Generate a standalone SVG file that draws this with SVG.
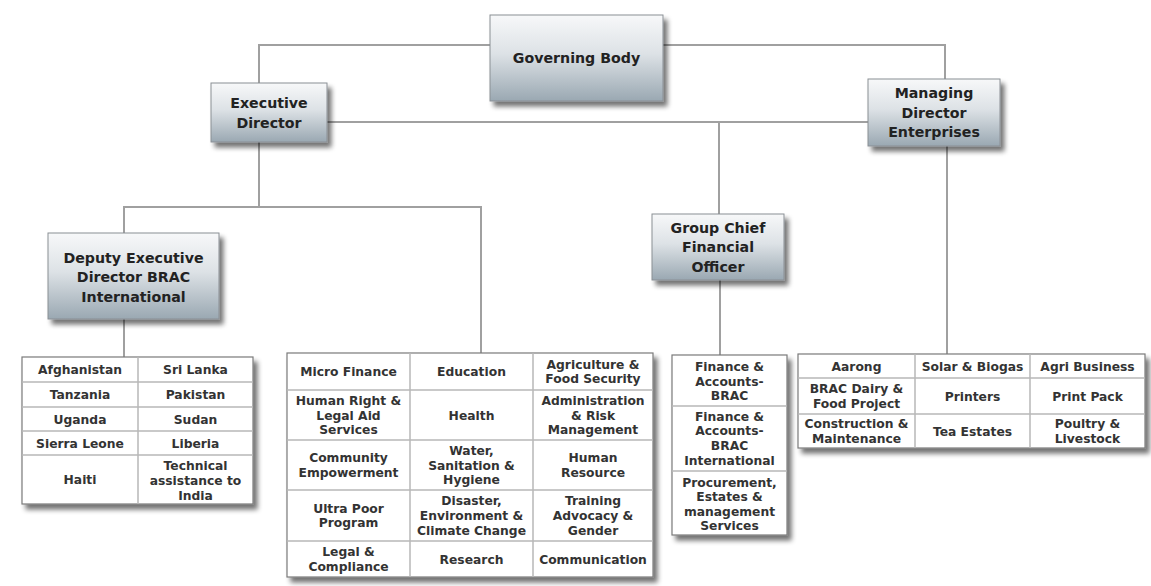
<svg xmlns="http://www.w3.org/2000/svg" width="1151" height="586" viewBox="0 0 1151 586">
<defs>
<linearGradient id="boxg" x1="0" y1="0" x2="0" y2="1">
<stop offset="0" stop-color="#f7f8f9"/>
<stop offset="0.45" stop-color="#dde2e6"/>
<stop offset="1" stop-color="#9aa8b2"/>
</linearGradient>
<filter id="sh" x="-10%" y="-10%" width="125%" height="130%">
<feGaussianBlur in="SourceAlpha" stdDeviation="2.5"/>
<feOffset dx="4" dy="5" result="b"/>
<feComponentTransfer><feFuncA type="linear" slope="0.55"/></feComponentTransfer>
<feMerge><feMergeNode/><feMergeNode in="SourceGraphic"/></feMerge>
</filter>
</defs>
<style>
.box{fill:url(#boxg);stroke:#8a8f94;stroke-width:1;filter:url(#sh)}
.tbl{fill:#fff;stroke:#7a7a7a;stroke-width:1.2;filter:url(#sh)}
.div{stroke:#b8b8b8;stroke-width:1.5;fill:none}
.con{stroke:#a0a0a0;stroke-width:2;fill:none}
.t{font-family:"DejaVu Sans",Verdana,sans-serif;font-weight:bold;font-size:14.2px;fill:#222;text-anchor:middle}
.c{font-family:"DejaVu Sans",Verdana,sans-serif;font-weight:bold;font-size:12.3px;fill:#333;text-anchor:middle}
</style>
<rect width="1151" height="586" fill="#fff"/>
<g id="connectors">
<polyline class="con" points="490,45 259,45 259,83"/>
<polyline class="con" points="663,45 945,45 945,79"/>
<line class="con" x1="327" y1="122" x2="868" y2="122"/>
<line class="con" x1="719" y1="122" x2="719" y2="214"/>
<line class="con" x1="947" y1="146" x2="947" y2="354"/>
<line class="con" x1="720" y1="280" x2="720" y2="355"/>
<line class="con" x1="259" y1="142" x2="259" y2="207"/>
<polyline class="con" points="124,233 124,207 481,207 481,353"/>
<line class="con" x1="124" y1="319" x2="124" y2="357"/>
</g>
<g id="governing-body">
<rect class="box" x="490" y="15" width="173" height="86"/>
<text class="t" x="576.5" y="63">Governing Body</text>
</g>
<g id="executive-director">
<rect class="box" x="211" y="83" width="116" height="59"/>
<text class="t" x="269" y="108">Executive</text>
<text class="t" x="269" y="128">Director</text>
</g>
<g id="managing-director">
<rect class="box" x="868" y="79" width="132" height="67"/>
<text class="t" x="934" y="98">Managing</text>
<text class="t" x="934" y="118">Director</text>
<text class="t" x="934" y="137">Enterprises</text>
</g>
<g id="gcfo">
<rect class="box" x="652" y="214" width="132" height="66"/>
<text class="t" x="718" y="233">Group Chief</text>
<text class="t" x="718" y="252">Financial</text>
<text class="t" x="718" y="272">Officer</text>
</g>
<g id="deputy-ed">
<rect class="box" x="48" y="233" width="171" height="86"/>
<text class="t" x="133.5" y="263">Deputy Executive</text>
<text class="t" x="133.5" y="282">Director BRAC</text>
<text class="t" x="133.5" y="302">International</text>
</g>
<g id="countries-table">
<rect class="tbl" x="22" y="357" width="231" height="147"/>
<path class="div" d="M138,357V504M22,382H253M22,407H253M22,431H253M22,455H253"/>
<text class="c" x="80" y="374">Afghanistan</text>
<text class="c" x="195.5" y="374">Sri Lanka</text>
<text class="c" x="80" y="399">Tanzania</text>
<text class="c" x="195.5" y="399">Pakistan</text>
<text class="c" x="80" y="423.5">Uganda</text>
<text class="c" x="195.5" y="423.5">Sudan</text>
<text class="c" x="80" y="447.5">Sierra Leone</text>
<text class="c" x="195.5" y="447.5">Liberia</text>
<text class="c" x="80" y="484">Haiti</text>
<text class="c" x="195.5" y="469.5">Technical</text>
<text class="c" x="195.5" y="484.5">assistance to</text>
<text class="c" x="195.5" y="499.5">India</text>
</g>
<g id="programs-table">
<rect class="tbl" x="287" y="353" width="366" height="224"/>
<path class="div" d="M410,353V577M533,353V577M287,390H653M287,440H653M287,490H653M287,541H653"/>
<text class="c" x="348.5" y="376">Micro Finance</text>
<text class="c" x="471.5" y="376">Education</text>
<text class="c" x="593" y="368.5">Agriculture &amp;</text>
<text class="c" x="593" y="383">Food Security</text>
<text class="c" x="348.5" y="404.5">Human Right &amp;</text>
<text class="c" x="348.5" y="419.5">Legal Aid</text>
<text class="c" x="348.5" y="434">Services</text>
<text class="c" x="471.5" y="419.5">Health</text>
<text class="c" x="593" y="404.5">Administration</text>
<text class="c" x="593" y="419.5">&amp; Risk</text>
<text class="c" x="593" y="434">Management</text>
<text class="c" x="348.5" y="462">Community</text>
<text class="c" x="348.5" y="476.5">Empowerment</text>
<text class="c" x="471.5" y="454.5">Water,</text>
<text class="c" x="471.5" y="469.5">Sanitation &amp;</text>
<text class="c" x="471.5" y="484">Hygiene</text>
<text class="c" x="593" y="462">Human</text>
<text class="c" x="593" y="476.5">Resource</text>
<text class="c" x="348.5" y="512.5">Ultra Poor</text>
<text class="c" x="348.5" y="527">Program</text>
<text class="c" x="471.5" y="505">Disaster,</text>
<text class="c" x="471.5" y="520">Environment &amp;</text>
<text class="c" x="471.5" y="534.5">Climate Change</text>
<text class="c" x="593" y="505">Training</text>
<text class="c" x="593" y="520">Advocacy  &amp;</text>
<text class="c" x="593" y="534.5">Gender</text>
<text class="c" x="348.5" y="556">Legal &amp;</text>
<text class="c" x="348.5" y="570.5">Compliance</text>
<text class="c" x="471.5" y="563.5">Research</text>
<text class="c" x="593" y="563.5">Communication</text>
</g>
<g id="finance-table">
<rect class="tbl" x="672" y="355" width="115" height="180"/>
<path class="div" d="M672,406H787M672,471H787"/>
<text class="c" x="729.5" y="370.5">Finance &amp;</text>
<text class="c" x="729.5" y="385.5">Accounts-</text>
<text class="c" x="729.5" y="400">BRAC</text>
<text class="c" x="729.5" y="420.5">Finance &amp;</text>
<text class="c" x="729.5" y="435">Accounts-</text>
<text class="c" x="729.5" y="450">BRAC</text>
<text class="c" x="729.5" y="464.5">International</text>
<text class="c" x="729.5" y="486.5">Procurement,</text>
<text class="c" x="729.5" y="501">Estates &amp;</text>
<text class="c" x="729.5" y="516">management</text>
<text class="c" x="729.5" y="530">Services</text>
</g>
<g id="enterprises-table">
<rect class="tbl" x="798" y="354" width="347" height="94"/>
<path class="div" d="M915,354V448M1030,354V448M798,378H1145M798,414H1145"/>
<text class="c" x="856.5" y="370.5">Aarong</text>
<text class="c" x="972.5" y="370.5">Solar &amp; Biogas</text>
<text class="c" x="1087.5" y="370.5">Agri Business</text>
<text class="c" x="856.5" y="393">BRAC Dairy &amp;</text>
<text class="c" x="856.5" y="408">Food Project</text>
<text class="c" x="972.5" y="400.5">Printers</text>
<text class="c" x="1087.5" y="400.5">Print Pack</text>
<text class="c" x="856.5" y="428">Construction &amp;</text>
<text class="c" x="856.5" y="443">Maintenance</text>
<text class="c" x="972.5" y="435.5">Tea Estates</text>
<text class="c" x="1087.5" y="428">Poultry &amp;</text>
<text class="c" x="1087.5" y="443">Livestock</text>
</g>
</svg>
